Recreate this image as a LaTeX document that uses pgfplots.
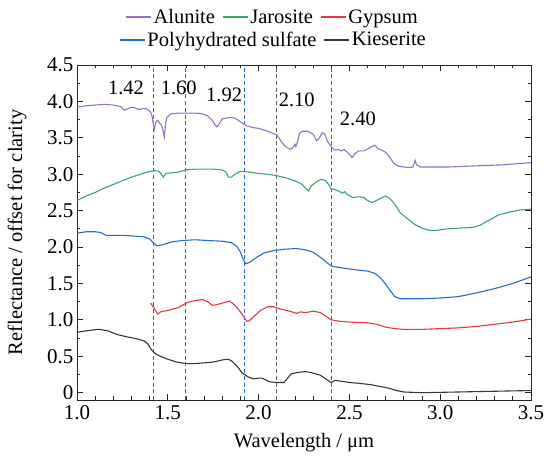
\documentclass[border=0pt]{standalone}
\usepackage{fontspec}
\setmainfont{Liberation Serif}
\usepackage{pgfplots}
\pgfplotsset{compat=1.18}
\definecolor{cAlu}{RGB}{150,112,195}
\definecolor{cJar}{RGB}{55,168,105}
\definecolor{cGyp}{RGB}{232,55,62}
\definecolor{cPoly}{RGB}{35,110,200}
\definecolor{cKie}{RGB}{55,55,55}
\definecolor{cDashB}{RGB}{35,105,200}
\definecolor{cDashG}{RGB}{95,95,95}
\pgfplotsset{
  base/.style={
    width=454pt, height=335pt, scale only axis,
    xmin=1.0, xmax=3.5, ymin=-0.1, ymax=4.5,
    legend style={draw=none, fill=none, font=\fontsize{20.5}{24}\selectfont,
      inner sep=0pt,
      nodes={inner sep=2pt},
      /tikz/every even column/.append style={column sep=5pt}},
  },
}
\begin{document}
\begin{tikzpicture}[font=\fontsize{20.5}{24}\selectfont]
\begin{axis}[base,
  legend image code/.code={\draw[#1, line width=1.3pt] (0pt,0pt) -- (25pt,0pt);},
  axis line style={line width=0.9pt, black!85},
  every tick/.style={black!85, line width=0.8pt},
  tick align=inside,
  major tick length=6pt, minor tick length=3.5pt,
  xtick={1.0,1.5,...,3.5},
  minor x tick num=4,
  ytick={0,0.5,...,4.5},
  yticklabels={0,0.5,1.0,1.5,2.0,2.5,3.0,3.5,4.0,4.5},
  minor y tick num=1,
  xticklabel style={yshift=-2pt, /pgf/number format/.cd, fixed, fixed zerofill, precision=1},
  /pgf/number format/assume math mode=true,
  tick label style={font=\fontsize{21}{24}\selectfont},
  xlabel={Wavelength / μm},
  ylabel={Reflectance / offset for clarity},
  xlabel style={at={(axis description cs:0.5,-0.128)}, anchor=center},
  ylabel style={at={(axis description cs:-0.132,0.5)}, anchor=center},
  legend columns=3,
  legend style={at={(axis description cs:0.4306,1.143)}, anchor=center},
]
\coordinate (bl) at (rel axis cs:0,0);
\coordinate (tr) at (rel axis cs:1,1);
% dashed reference lines
\addplot[cDashB, line width=1.1pt, dash pattern=on 4pt off 2.7pt, forget plot] coordinates {(1.42,-0.1) (1.42,4.5)};
\addplot[cDashG, line width=1pt, dash pattern=on 4pt off 2.7pt, forget plot] coordinates {(1.60,-0.1) (1.60,4.5)};
\addplot[cDashB, line width=1.1pt, dash pattern=on 4pt off 2.7pt, forget plot] coordinates {(1.92,-0.1) (1.92,4.5)};
\addplot[cDashG, line width=1pt, dash pattern=on 4pt off 2.7pt, forget plot] coordinates {(2.10,-0.1) (2.10,4.5)};
\addplot[cDashB, line width=1.1pt, dash pattern=on 4pt off 2.7pt, forget plot] coordinates {(2.40,-0.1) (2.40,4.5)};

\addplot[cAlu, line width=1.1pt] coordinates {
(1.00,3.92) (1.05,3.94) (1.10,3.95) (1.15,3.96) (1.20,3.95) (1.24,3.93) (1.26,3.88) (1.28,3.90) (1.30,3.92) (1.32,3.91) (1.34,3.89) (1.36,3.90) (1.38,3.90) (1.40,3.87) (1.41,3.83) (1.42,3.70) (1.425,3.61) (1.435,3.72) (1.445,3.74) (1.455,3.70) (1.465,3.68) (1.475,3.58) (1.481,3.51) (1.488,3.70) (1.495,3.78) (1.52,3.83) (1.56,3.84) (1.60,3.84) (1.65,3.84) (1.69,3.83) (1.72,3.80) (1.745,3.74) (1.76,3.68) (1.77,3.65) (1.785,3.70) (1.80,3.76) (1.84,3.78) (1.87,3.77) (1.90,3.72) (1.93,3.67) (1.97,3.64) (2.00,3.63) (2.04,3.60) (2.08,3.56) (2.10,3.54) (2.12,3.47) (2.14,3.40) (2.16,3.36) (2.175,3.34) (2.19,3.37) (2.20,3.41) (2.205,3.38) (2.215,3.45) (2.225,3.56) (2.24,3.59) (2.27,3.59) (2.30,3.55) (2.32,3.46) (2.335,3.50) (2.35,3.57) (2.365,3.55) (2.38,3.45) (2.40,3.38) (2.42,3.33) (2.44,3.34) (2.455,3.32) (2.47,3.34) (2.49,3.30) (2.515,3.23) (2.53,3.28) (2.55,3.32) (2.58,3.32) (2.61,3.36) (2.64,3.40) (2.66,3.35) (2.68,3.33) (2.70,3.30) (2.72,3.24) (2.745,3.15) (2.77,3.11) (2.80,3.10) (2.83,3.09) (2.85,3.10) (2.862,3.19) (2.87,3.13) (2.89,3.10) (2.95,3.10) (3.05,3.10) (3.15,3.11) (3.25,3.12) (3.35,3.13) (3.45,3.15) (3.50,3.16)};
\addlegendentry{Alunite}

\addplot[cJar, line width=1.1pt] coordinates {
(1.00,2.64) (1.05,2.70) (1.10,2.75) (1.15,2.81) (1.20,2.86) (1.25,2.91) (1.30,2.96) (1.35,3.00) (1.40,3.04) (1.43,3.05) (1.45,3.04) (1.465,3.00) (1.475,2.96) (1.49,3.01) (1.52,3.02) (1.56,3.03) (1.60,3.06) (1.65,3.07) (1.70,3.07) (1.75,3.07) (1.80,3.06) (1.82,3.03) (1.835,2.96) (1.85,2.96) (1.87,3.00) (1.90,3.04) (1.95,3.03) (2.00,3.01) (2.05,3.00) (2.10,2.98) (2.15,2.95) (2.20,2.91) (2.24,2.86) (2.26,2.80) (2.275,2.77) (2.29,2.84) (2.32,2.90) (2.345,2.93) (2.37,2.91) (2.385,2.86) (2.40,2.80) (2.42,2.79) (2.44,2.77) (2.46,2.74) (2.475,2.76) (2.49,2.72) (2.52,2.68) (2.55,2.69) (2.58,2.68) (2.60,2.64) (2.625,2.61) (2.65,2.64) (2.68,2.68) (2.70,2.70) (2.72,2.67) (2.74,2.62) (2.76,2.55) (2.78,2.47) (2.80,2.43) (2.83,2.37) (2.86,2.31) (2.90,2.26) (2.94,2.23) (2.98,2.23) (3.04,2.25) (3.10,2.26) (3.18,2.27) (3.22,2.30) (3.27,2.37) (3.32,2.44) (3.38,2.48) (3.44,2.51) (3.50,2.52)};
\addlegendentry{Jarosite}

\addplot[cGyp, line width=1.1pt] coordinates {
(1.405,1.23) (1.42,1.18) (1.435,1.12) (1.445,1.08) (1.46,1.11) (1.48,1.12) (1.50,1.13) (1.53,1.15) (1.56,1.17) (1.60,1.23) (1.64,1.26) (1.69,1.28) (1.72,1.25) (1.745,1.20) (1.77,1.21) (1.80,1.23) (1.84,1.26) (1.87,1.20) (1.90,1.11) (1.935,0.98) (1.95,0.99) (1.98,1.06) (2.01,1.13) (2.05,1.18) (2.08,1.18) (2.12,1.15) (2.17,1.12) (2.21,1.09) (2.23,1.11) (2.26,1.10) (2.30,1.12) (2.34,1.10) (2.37,1.05) (2.40,1.00) (2.45,0.98) (2.50,0.97) (2.60,0.96) (2.65,0.94) (2.70,0.90) (2.75,0.88) (2.80,0.87) (2.90,0.87) (3.00,0.88) (3.10,0.89) (3.20,0.91) (3.30,0.94) (3.40,0.97) (3.50,1.01)};
\addlegendentry{Gypsum}

\addplot[cPoly, line width=1.1pt, forget plot] coordinates {
(1.00,2.19) (1.05,2.21) (1.10,2.21) (1.13,2.20) (1.16,2.16) (1.20,2.16) (1.26,2.16) (1.32,2.15) (1.37,2.14) (1.40,2.11) (1.42,2.06) (1.44,2.02) (1.47,2.03) (1.52,2.07) (1.58,2.09) (1.65,2.10) (1.72,2.09) (1.80,2.08) (1.85,2.06) (1.88,2.01) (1.90,1.93) (1.915,1.83) (1.93,1.77) (1.95,1.79) (1.99,1.86) (2.03,1.92) (2.08,1.95) (2.14,1.97) (2.21,1.98) (2.26,1.96) (2.30,1.93) (2.34,1.86) (2.38,1.78) (2.40,1.74) (2.44,1.72) (2.50,1.70) (2.56,1.68) (2.60,1.67) (2.64,1.64) (2.67,1.58) (2.70,1.49) (2.725,1.40) (2.75,1.32) (2.78,1.29) (2.80,1.29) (2.90,1.29) (3.00,1.30) (3.10,1.32) (3.20,1.37) (3.30,1.43) (3.40,1.50) (3.50,1.59)};

\addplot[cKie, line width=1.1pt, forget plot] coordinates {
(1.00,0.83) (1.05,0.85) (1.12,0.87) (1.17,0.85) (1.22,0.80) (1.27,0.77) (1.33,0.74) (1.37,0.71) (1.39,0.67) (1.41,0.59) (1.43,0.54) (1.45,0.51) (1.50,0.46) (1.55,0.42) (1.60,0.40) (1.65,0.40) (1.70,0.41) (1.75,0.42) (1.80,0.45) (1.83,0.46) (1.85,0.44) (1.88,0.37) (1.91,0.27) (1.94,0.22) (1.97,0.19) (2.00,0.20) (2.02,0.20) (2.06,0.15) (2.10,0.14) (2.14,0.14) (2.16,0.20) (2.18,0.26) (2.22,0.28) (2.26,0.29) (2.30,0.27) (2.34,0.24) (2.37,0.19) (2.40,0.14) (2.42,0.17) (2.45,0.16) (2.50,0.14) (2.55,0.13) (2.62,0.11) (2.68,0.08) (2.72,0.06) (2.76,0.03) (2.80,0.01) (2.90,0.00) (3.10,0.01) (3.30,0.02) (3.50,0.03)};

\node at (axis cs:1.27,4.19) {1.42};
\node at (axis cs:1.56,4.19) {1.60};
\node at (axis cs:1.81,4.09) {1.92};
\node at (axis cs:2.21,4.02) {2.10};
\node at (axis cs:2.547,3.76) {2.40};
\end{axis}
\begin{axis}[base, hide axis,
  legend image code/.code={\draw[#1, line width=1.3pt] (0pt,0pt) -- (25pt,0pt);},
  legend columns=2,
  legend style={at={(axis description cs:0.4328,1.075)}, anchor=center},
]
\addlegendimage{cPoly}
\addlegendentry{Polyhydrated sulfate}
\addlegendimage{cKie}
\addlegendentry{Kieserite}
\end{axis}
\pgfresetboundingbox
\useasboundingbox ([shift={(-77pt,-60pt)}]bl) rectangle ([shift={(13pt,65pt)}]tr);
\end{tikzpicture}
\end{document}
